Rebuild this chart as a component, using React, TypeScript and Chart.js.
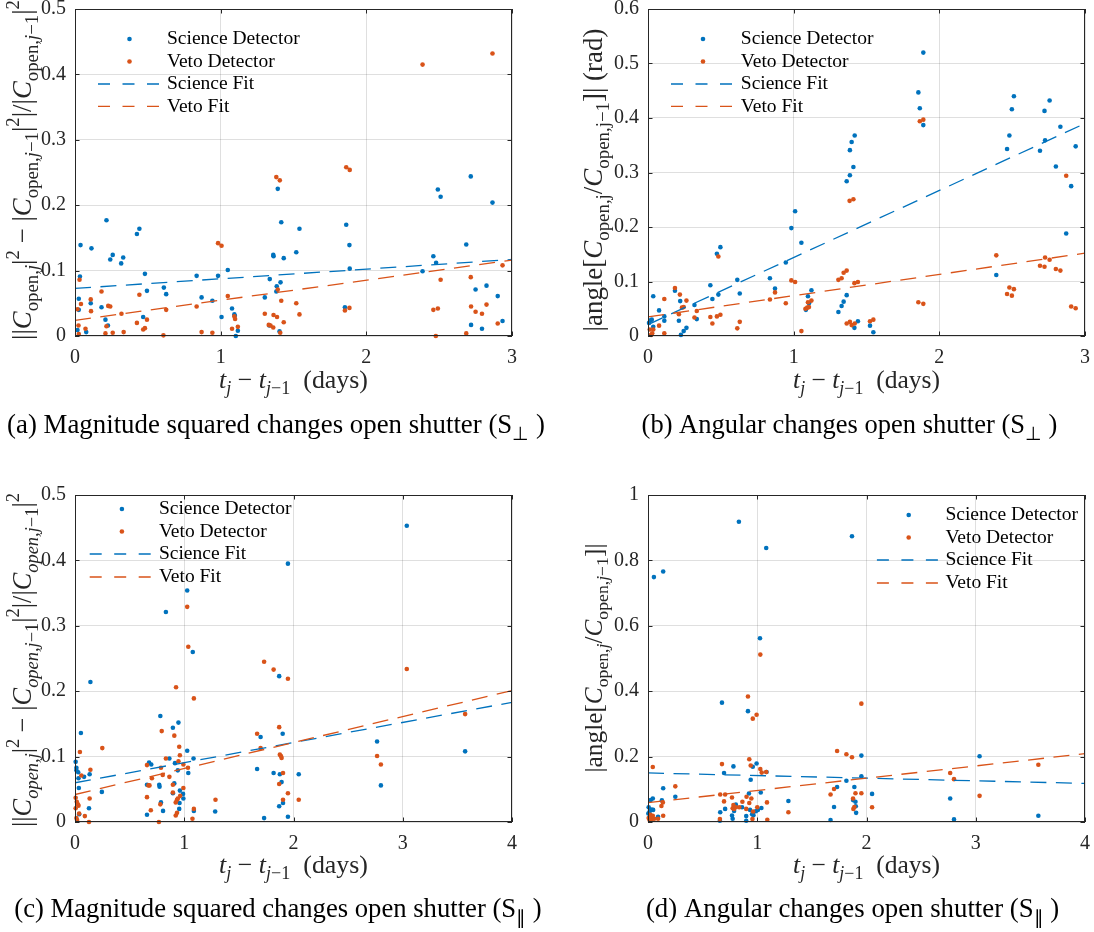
import React, { useEffect, useRef } from 'react';
import { Chart, registerables } from 'chart.js';
Chart.register(...registerables);

const SCI = '#0072BD';
const VETO = '#D95319';
const FONT = "'Liberation Serif', 'Times New Roman', serif";

// ---------------- DATA ----------------
const labels = ['Science Detector', 'Veto Detector', 'Science Fit', 'Veto Fit'];

const xTicks3 = [0, 1, 2, 3];
const xTicks4 = [0, 1, 2, 3, 4];
const yTicksA = [0, 0.1, 0.2, 0.3, 0.4, 0.5];
const yTicksB = [0, 0.1, 0.2, 0.3, 0.4, 0.5, 0.6];
const yTicksC = [0, 0.1, 0.2, 0.3, 0.4, 0.5];
const yTicksD = [0, 0.2, 0.4, 0.6, 0.8, 1];

const aScience = [[0.017,0.009],[0.026,0.040],[0.026,0.057],[0.034,0.091],[0.038,0.139],[0.077,0.006],[0.108,0.050],[0.113,0.134],[0.182,0.044],[0.209,0.025],[0.216,0.177],[0.226,0.016],[0.242,0.117],[0.259,0.124],[0.317,0.111],[0.331,0.120],[0.425,0.156],[0.442,0.164],[0.468,0.029],[0.480,0.095],[0.494,0.069],[0.610,0.074],[0.626,0.064],[0.835,0.092],[0.869,0.059],[0.943,0.054],[0.982,0.092],[1.006,0.029],[1.049,0.101],[1.078,0.042],[1.094,0.033],[1.097,0.031],[1.104,0.000],[1.118,0.008],[1.303,0.059],[1.337,0.087],[1.334,0.016],[1.361,0.124],[1.363,0.122],[1.382,0.068],[1.385,0.076],[1.392,0.225],[1.404,0.007],[1.411,0.082],[1.416,0.174],[1.433,0.119],[1.519,0.128],[1.541,0.164],[1.853,0.044],[1.862,0.170],[1.884,0.139],[1.886,0.103],[2.386,0.099],[2.460,0.122],[2.479,0.112],[2.491,0.224],[2.510,0.213],[2.686,0.140],[2.717,0.244],[2.719,0.017],[2.750,0.071],[2.794,0.011],[2.825,0.077],[2.866,0.204],[2.902,0.061],[2.935,0.023]];
const aVeto = [[0.017,0.041],[0.024,0.016],[0.026,0.003],[0.031,0.086],[0.041,0.049],[0.072,0.011],[0.108,0.056],[0.110,0.038],[0.182,0.068],[0.209,0.004],[0.216,0.015],[0.228,0.046],[0.242,0.045],[0.259,0.005],[0.319,0.034],[0.334,0.006],[0.425,0.020],[0.442,0.063],[0.468,0.010],[0.480,0.012],[0.494,0.025],[0.607,0.001],[0.626,0.040],[0.835,0.045],[0.869,0.006],[0.943,0.005],[0.982,0.142],[1.006,0.138],[1.049,0.061],[1.078,0.011],[1.094,0.030],[1.099,0.026],[1.118,0.014],[1.303,0.034],[1.330,0.017],[1.342,0.016],[1.361,0.013],[1.363,0.032],[1.382,0.243],[1.387,0.029],[1.392,0.071],[1.406,0.238],[1.409,0.005],[1.416,0.054],[1.433,0.021],[1.519,0.050],[1.541,0.033],[1.853,0.039],[1.862,0.258],[1.884,0.043],[1.886,0.254],[2.386,0.415],[2.460,0.040],[2.477,0.000],[2.491,0.042],[2.510,0.086],[2.686,0.004],[2.717,0.090],[2.719,0.045],[2.750,0.037],[2.794,0.034],[2.825,0.048],[2.866,0.432],[2.902,0.019],[2.935,0.108]];
const aScienceFit = [[0, 0.0727], [3, 0.117]];
const aVetoFit = [[0, 0.024], [3, 0.116]];

const bScience = [[0.007,0.024],[0.017,0.029],[0.026,0.030],[0.036,0.073],[0.036,0.017],[0.076,0.047],[0.112,0.028],[0.112,0.036],[0.185,0.083],[0.212,0.028],[0.221,0.064],[0.226,0.002],[0.245,0.009],[0.264,0.015],[0.319,0.057],[0.335,0.031],[0.428,0.093],[0.442,0.068],[0.473,0.151],[0.483,0.076],[0.497,0.163],[0.613,0.103],[0.630,0.078],[0.837,0.106],[0.872,0.087],[0.946,0.135],[0.984,0.198],[1.010,0.229],[1.053,0.171],[1.084,0.048],[1.098,0.073],[1.105,0.060],[1.122,0.084],[1.307,0.044],[1.329,0.055],[1.343,0.063],[1.364,0.075],[1.364,0.284],[1.386,0.295],[1.386,0.341],[1.398,0.356],[1.410,0.310],[1.417,0.015],[1.419,0.368],[1.441,0.027],[1.524,0.019],[1.547,0.007],[1.856,0.447],[1.866,0.418],[1.890,0.520],[1.890,0.387],[2.391,0.112],[2.465,0.343],[2.481,0.368],[2.498,0.416],[2.512,0.440],[2.691,0.340],[2.722,0.413],[2.726,0.359],[2.757,0.432],[2.800,0.311],[2.831,0.384],[2.871,0.188],[2.905,0.275],[2.936,0.348]];
const bVeto = [[0.012,0.012],[0.021,0.002],[0.029,0.005],[0.036,0.012],[0.076,0.019],[0.112,0.068],[0.112,0.005],[0.185,0.088],[0.212,0.040],[0.219,0.076],[0.233,0.052],[0.245,0.053],[0.264,0.065],[0.319,0.034],[0.335,0.046],[0.428,0.035],[0.442,0.023],[0.473,0.036],[0.483,0.146],[0.497,0.039],[0.613,0.014],[0.630,0.026],[0.837,0.067],[0.872,0.080],[0.946,0.060],[0.984,0.102],[1.010,0.099],[1.053,0.009],[1.081,0.050],[1.093,0.052],[1.098,0.062],[1.105,0.053],[1.122,0.065],[1.307,0.103],[1.329,0.106],[1.343,0.116],[1.364,0.120],[1.364,0.023],[1.384,0.248],[1.386,0.026],[1.398,0.020],[1.410,0.251],[1.419,0.023],[1.417,0.097],[1.441,0.099],[1.524,0.027],[1.547,0.030],[1.856,0.062],[1.866,0.394],[1.890,0.397],[1.890,0.059],[2.391,0.148],[2.465,0.077],[2.481,0.089],[2.498,0.074],[2.512,0.086],[2.691,0.129],[2.722,0.127],[2.726,0.144],[2.757,0.140],[2.800,0.123],[2.831,0.120],[2.871,0.294],[2.905,0.054],[2.936,0.051]];
const bScienceFit = [[0, 0.021], [3, 0.390]];
const bVetoFit = [[0, 0.035], [3, 0.152]];

const cScience = [[0.006,0.092],[0.013,0.083],[0.013,0.079],[0.029,0.076],[0.032,0.067],[0.035,0.052],[0.038,0.012],[0.054,0.136],[0.083,0.069],[0.128,0.021],[0.134,0.073],[0.141,0.214],[0.246,0.046],[0.659,0.011],[0.659,0.057],[0.678,0.091],[0.698,0.088],[0.771,0.057],[0.774,0.054],[0.781,0.162],[0.787,0.030],[0.806,0.017],[0.832,0.321],[0.864,0.097],[0.896,0.044],[0.896,0.144],[0.909,0.059],[0.915,0.090],[0.941,0.079],[0.947,0.152],[0.954,0.020],[0.957,0.029],[0.960,0.048],[0.989,0.043],[0.992,0.036],[1.027,0.354],[1.027,0.109],[1.037,0.075],[1.078,0.260],[1.085,0.097],[1.088,0.017],[1.283,0.016],[1.667,0.081],[1.699,0.130],[1.731,0.006],[1.818,0.075],[1.869,0.223],[1.869,0.024],[1.875,0.073],[1.891,0.061],[1.901,0.135],[1.904,0.029],[1.949,0.395],[1.949,0.008],[2.048,0.073],[2.765,0.123],[2.800,0.056],[3.037,0.453],[3.571,0.108]];
const cVeto = [[0.006,0.037],[0.006,0.021],[0.013,0.006],[0.016,0.031],[0.019,0.003],[0.026,0.027],[0.032,0.025],[0.038,0.013],[0.045,0.107],[0.058,0.071],[0.090,0.009],[0.128,0.000],[0.134,0.036],[0.141,0.080],[0.250,0.113],[0.659,0.087],[0.659,0.038],[0.672,0.056],[0.682,0.056],[0.694,0.018],[0.704,0.067],[0.768,0.000],[0.781,0.027],[0.787,0.083],[0.794,0.139],[0.803,0.072],[0.832,0.097],[0.864,0.069],[0.896,0.057],[0.896,0.045],[0.909,0.132],[0.922,0.010],[0.922,0.030],[0.925,0.206],[0.934,0.014],[0.934,0.034],[0.941,0.036],[0.947,0.093],[0.954,0.115],[0.960,0.102],[0.963,0.040],[0.992,0.088],[0.992,0.052],[1.027,0.329],[1.034,0.083],[1.037,0.268],[1.075,0.005],[1.088,0.189],[1.088,0.020],[1.286,0.034],[1.667,0.135],[1.699,0.113],[1.818,0.233],[1.731,0.245],[1.869,0.145],[1.875,0.103],[1.885,0.101],[1.891,0.098],[1.869,0.058],[1.904,0.075],[1.904,0.034],[1.949,0.219],[1.949,0.044],[2.048,0.034],[2.765,0.101],[2.800,0.088],[3.037,0.234],[3.571,0.165]];
const cScienceFit = [[0, 0.060], [4, 0.183]];
const cVetoFit = [[0, 0.042], [4, 0.201]];

const dScience = [[0.003,0.026],[0.006,0.045],[0.016,0.033],[0.016,0.016],[0.025,0.067],[0.032,0.038],[0.038,0.011],[0.044,0.072],[0.047,0.037],[0.054,0.749],[0.092,0.016],[0.127,0.066],[0.139,0.103],[0.139,0.766],[0.250,0.077],[0.658,0.004],[0.661,0.030],[0.677,0.365],[0.696,0.150],[0.706,0.040],[0.769,0.020],[0.775,0.010],[0.782,0.170],[0.788,0.034],[0.804,0.053],[0.832,0.918],[0.861,0.045],[0.899,0.018],[0.899,0.004],[0.915,0.339],[0.924,0.087],[0.934,0.037],[0.940,0.129],[0.953,0.024],[0.959,0.169],[0.965,0.021],[0.987,0.033],[0.994,0.179],[1.006,0.037],[1.025,0.562],[1.032,0.090],[1.038,0.043],[1.082,0.838],[1.085,0.153],[1.285,0.064],[1.671,0.006],[1.703,0.046],[1.731,0.107],[1.816,0.126],[1.867,0.874],[1.877,0.067],[1.889,0.107],[1.899,0.062],[1.902,0.048],[1.905,0.028],[1.953,0.203],[1.953,0.140],[2.051,0.086],[2.766,0.072],[2.801,0.008],[3.035,0.201],[3.573,0.019]];
const dVeto = [[0.006,0.012],[0.013,0.007],[0.022,0.022],[0.028,0.014],[0.035,0.009],[0.044,0.168],[0.044,0.019],[0.057,0.010],[0.092,0.010],[0.123,0.049],[0.136,0.060],[0.139,0.019],[0.250,0.109],[0.658,0.009],[0.661,0.084],[0.677,0.177],[0.696,0.063],[0.706,0.084],[0.769,0.075],[0.775,0.042],[0.782,0.052],[0.788,0.040],[0.804,0.045],[0.835,0.045],[0.864,0.062],[0.899,0.040],[0.902,0.077],[0.915,0.384],[0.927,0.192],[0.927,0.058],[0.940,0.173],[0.946,0.072],[0.956,0.009],[0.959,0.316],[0.962,0.032],[0.994,0.328],[1.000,0.045],[1.028,0.512],[1.028,0.162],[1.041,0.151],[1.082,0.153],[1.089,0.060],[1.092,0.007],[1.285,0.030],[1.671,0.084],[1.703,0.101],[1.731,0.217],[1.816,0.207],[1.867,0.198],[1.877,0.072],[1.880,0.040],[1.889,0.046],[1.899,0.088],[1.953,0.362],[1.953,0.088],[2.051,0.045],[2.766,0.150],[2.801,0.131],[3.035,0.080],[3.573,0.175]];
const dScienceFit = [[0, 0.150], [4, 0.118]];
const dVetoFit = [[0, 0.059], [4, 0.209]];

// ---------------- TEXT ----------------
type Seg = [string, string]; // flags: i italic, b subscript, p superscript
const yTitleA: Seg[] = [['||',''],['C','i'],['open,','b'],['j','bi'],['|',''],['2','p'],[' − |',''],['C','i'],['open,','b'],['j','bi'],['−1','b'],['|',''],['2','p'],['|/|',''],['C','i'],['open,','b'],['j','bi'],['−1','b'],['|',''],['2','p']];
const yTitleB: Seg[] = [['|angle[',''],['C','i'],['open,j','b'],['/',''],['C','i'],['open,j−1','b'],[']| (rad)','']];
const yTitleC: Seg[] = [['||',''],['C','i'],['open,j','bi'],['|',''],['2','p'],[' − |',''],['C','i'],['open,j','bi'],['−1','b'],['|',''],['2','p'],['|/|',''],['C','i'],['open,j','bi'],['−1','b'],['|',''],['2','p']];
const yTitleD: Seg[] = [['|angle[',''],['C','i'],['open,','b'],['j','bi'],['/',''],['C','i'],['open,','b'],['j','bi'],['−1','b'],[']|','']];
const xTitle: Seg[] = [['t','i'],['j','bi'],[' − ',''],['t','i'],['j','bi'],['−1','b'],['  (days)','']];
const capA: Seg[] = [['(a) Magnitude squared changes open shutter (S',''],['⊥','b'],[' )','']];
const capB: Seg[] = [['(b) Angular changes open shutter (S',''],['⊥','b'],[' )','']];
const capC: Seg[] = [['(c) Magnitude squared changes open shutter (S',''],['∥','b'],[' )','']];
const capD: Seg[] = [['(d) Angular changes open shutter (S',''],['∥','b'],[' )','']];

// ---------------- RICH TEXT HELPERS ----------------
function setFont(ctx: CanvasRenderingContext2D, f: string, size: number) {
  const s = f.includes('b') || f.includes('p') ? size * 0.7 : size;
  ctx.font = `${f.includes('i') ? 'italic ' : ''}${s}px ${FONT}`;
}
function measureRich(ctx: CanvasRenderingContext2D, segs: Seg[], size: number) {
  let w = 0;
  for (const [t, f] of segs) { setFont(ctx, f, size); w += ctx.measureText(t).width; }
  return w;
}
function drawRich(ctx: CanvasRenderingContext2D, segs: Seg[], size: number, x: number, y: number) {
  let cx = x;
  for (const [t, f] of segs) {
    setFont(ctx, f, size);
    const dy = f.includes('b') ? 0.27 * size : f.includes('p') ? -0.42 * size : 0;
    ctx.fillText(t, cx, y + dy);
    cx += ctx.measureText(t).width;
  }
}
function fitSize(ctx: CanvasRenderingContext2D, segs: Seg[], len: number) {
  return (20 * len) / measureRich(ctx, segs, 20);
}

// ---------------- PANELS ----------------
const panels = [
  { key: 'a', left: 0, top: 0, w: 547, h: 460, L: 75, R: 512, T: 9, B: 336, xMax: 3, yMax: 0.5,
    xTicks: xTicks3, yTicks: yTicksA, sci: aScience, veto: aVeto, sciFit: aScienceFit, vetoFit: aVetoFit,
    legend: { mx: 129.5, tx: 167, lx0: 98, lx1: 162, rows: [39, 61.5, 84, 106.4] },
    yTitle: { segs: yTitleA, x: 30.5, cy: 170, len: 340 }, xTitle: { base: 387.5, len: 149 },
    cap: { segs: capA, cx: 276, base: 433, len: 537 } },
  { key: 'b', left: 547, top: 0, w: 547, h: 460, L: 101, R: 538, T: 9, B: 336, xMax: 3, yMax: 0.6,
    xTicks: xTicks3, yTicks: yTicksB, sci: bScience, veto: bVeto, sciFit: bScienceFit, vetoFit: bVetoFit,
    legend: { mx: 156, tx: 193.8, lx0: 124, lx1: 187.6, rows: [39, 61.5, 84, 106.4] },
    yTitle: { segs: yTitleB, x: 54.5, cy: 180, len: 303 }, xTitle: { base: 387.5, len: 147 },
    cap: { segs: capB, cx: 302.5, base: 433, len: 415 } },
  { key: 'c', left: 0, top: 486, w: 547, h: 446, L: 75, R: 512, T: 9, B: 336, xMax: 4, yMax: 0.5,
    xTicks: xTicks4, yTicks: yTicksC, sci: cScience, veto: cVeto, sciFit: cScienceFit, vetoFit: cVetoFit,
    legend: { mx: 121.9, tx: 158.9, lx0: 89.7, lx1: 154, rows: [23, 45.5, 68, 91] },
    yTitle: { segs: yTitleC, x: 30.5, cy: 174, len: 334 }, xTitle: { base: 386.5, len: 149 },
    cap: { segs: capC, cx: 278, base: 431, len: 527 } },
  { key: 'd', left: 547, top: 486, w: 547, h: 446, L: 101, R: 538, T: 9, B: 336, xMax: 4, yMax: 1,
    xTicks: xTicks4, yTicks: yTicksD, sci: dScience, veto: dVeto, sciFit: dScienceFit, vetoFit: dVetoFit,
    legend: { mx: 361.7, tx: 398.4, lx0: 329.9, lx1: 393.9, rows: [29, 51.5, 74, 97] },
    yTitle: { segs: yTitleD, x: 54.5, cy: 172, len: 229 }, xTitle: { base: 386.5, len: 147 },
    cap: { segs: capD, cx: 305.6, base: 431, len: 413 } },
];

type PanelCfg = typeof panels[number];

function makeDecor(cfg: PanelCfg) {
  return {
    id: 'decor' + cfg.key,
    afterDatasetsDraw(chart: any) {
      const { ctx, chartArea: a, scales } = chart;
      ctx.save();
      ctx.strokeStyle = '#262626';
      ctx.lineWidth = 1;
      ctx.strokeRect(a.left + 0.5, a.top + 0.5, a.right - a.left - 1, a.bottom - a.top - 1);
      const tl = 4.5;
      ctx.beginPath();
      for (const v of cfg.xTicks) {
        const px = Math.round(scales.x.getPixelForValue(v)) + 0.5;
        ctx.moveTo(px, a.bottom); ctx.lineTo(px, a.bottom - tl);
        ctx.moveTo(px, a.top); ctx.lineTo(px, a.top + tl);
      }
      for (const v of cfg.yTicks) {
        const py = Math.round(scales.y.getPixelForValue(v)) + 0.5;
        ctx.moveTo(a.left, py); ctx.lineTo(a.left + tl, py);
        ctx.moveTo(a.right, py); ctx.lineTo(a.right - tl, py);
      }
      ctx.stroke();
      ctx.restore();
    },
    afterDraw(chart: any) {
      const { ctx, chartArea: a } = chart;
      const ds = chart.data.datasets;
      const lg = cfg.legend;
      ctx.save();
      // legend
      ctx.textBaseline = 'middle';
      ctx.textAlign = 'left';
      ctx.font = `19.5px ${FONT}`;
      for (let i = 0; i < 4; i++) {
        const y = lg.rows[i];
        if (i < 2) {
          ctx.fillStyle = ds[i].backgroundColor;
          ctx.beginPath();
          ctx.arc(lg.mx, y, 2.3, 0, Math.PI * 2);
          ctx.fill();
        } else {
          ctx.strokeStyle = ds[i].borderColor;
          ctx.lineWidth = 1.3;
          ctx.setLineDash([12, 12.5]);
          ctx.beginPath();
          ctx.moveTo(lg.lx0, y);
          ctx.lineTo(lg.lx1, y);
          ctx.stroke();
          ctx.setLineDash([]);
        }
        ctx.fillStyle = '#000';
        ctx.fillText(ds[i].label, lg.tx, y);
      }
      ctx.textBaseline = 'alphabetic';
      // y title
      ctx.fillStyle = '#262626';
      const yt = cfg.yTitle;
      const ys = fitSize(ctx, yt.segs, yt.len);
      const yw = measureRich(ctx, yt.segs, ys);
      ctx.save();
      ctx.translate(yt.x, yt.cy);
      ctx.rotate(-Math.PI / 2);
      drawRich(ctx, yt.segs, ys, -yw / 2, 0);
      ctx.restore();
      // x title
      const xs = fitSize(ctx, xTitle, cfg.xTitle.len);
      const xw = measureRich(ctx, xTitle, xs);
      drawRich(ctx, xTitle, xs, (a.left + a.right) / 2 - xw / 2, cfg.xTitle.base);
      // caption
      ctx.fillStyle = '#000';
      const cs = fitSize(ctx, cfg.cap.segs, cfg.cap.len);
      const cw = measureRich(ctx, cfg.cap.segs, cs);
      drawRich(ctx, cfg.cap.segs, cs, cfg.cap.cx - cw / 2, cfg.cap.base);
      ctx.restore();
    },
  };
}

const toPts = (arr: number[][]) => arr.map(([x, y]) => ({ x, y }));

function Panel({ cfg }: { cfg: PanelCfg }) {
  const ref = useRef<HTMLCanvasElement>(null);
  useEffect(() => {
    if (!ref.current) return;
    const tickFont = { family: FONT, size: 20 };
    const fmt = (v: any) => String(Number(v));
    const chart = new Chart(ref.current, {
      type: 'scatter',
      data: {
        datasets: [
          { label: labels[0], data: toPts(cfg.sci), backgroundColor: SCI, borderColor: SCI, pointRadius: 2.3, borderWidth: 0, pointBorderWidth: 0, order: 4, clip: false },
          { label: labels[1], data: toPts(cfg.veto), backgroundColor: VETO, borderColor: VETO, pointRadius: 2.3, borderWidth: 0, pointBorderWidth: 0, order: 3, clip: false },
          { label: labels[2], data: toPts(cfg.sciFit), showLine: true, borderColor: SCI, backgroundColor: SCI, pointRadius: 0, borderWidth: 1.3, borderDash: [16, 9.5], order: 2 },
          { label: labels[3], data: toPts(cfg.vetoFit), showLine: true, borderColor: VETO, backgroundColor: VETO, pointRadius: 0, borderWidth: 1.3, borderDash: [16, 9.5], order: 1 },
        ],
      } as any,
      options: {
        responsive: false,
        animation: false,
        devicePixelRatio: 1,
        events: [],
        layout: { padding: { left: 0, top: cfg.T, right: cfg.w - cfg.R, bottom: 0 } },
        plugins: { legend: { display: false }, tooltip: { enabled: false } },
        scales: {
          x: {
            type: 'linear', min: 0, max: cfg.xMax,
            afterBuildTicks: (s: any) => { s.ticks = cfg.xTicks.map((v) => ({ value: v })); },
            afterFit: (s: any) => { s.height = cfg.h - cfg.B; s.paddingLeft = 0; s.paddingRight = 0; s.paddingTop = 0; s.paddingBottom = 0; },
            grid: { color: 'rgba(38,38,38,0.15)', drawTicks: false, lineWidth: 1 },
            border: { display: false },
            ticks: { font: tickFont, color: '#262626', padding: 10, maxRotation: 0, autoSkip: false, callback: fmt },
          },
          y: {
            type: 'linear', min: 0, max: cfg.yMax,
            afterBuildTicks: (s: any) => { s.ticks = cfg.yTicks.map((v) => ({ value: v })); },
            afterFit: (s: any) => { s.width = cfg.L; s.paddingLeft = 0; s.paddingRight = 0; s.paddingTop = 0; s.paddingBottom = 0; },
            grid: { color: 'rgba(38,38,38,0.15)', drawTicks: false, lineWidth: 1 },
            border: { display: false },
            ticks: { font: tickFont, color: '#262626', padding: 9, autoSkip: false, callback: fmt },
          },
        },
      } as any,
      plugins: [makeDecor(cfg)],
    });
    return () => chart.destroy();
  }, [cfg]);
  return (
    <canvas
      ref={ref}
      width={cfg.w}
      height={cfg.h}
      style={{ position: 'absolute', left: cfg.left, top: cfg.top, width: cfg.w, height: cfg.h }}
    />
  );
}

export default function App() {
  return (
    <div style={{ position: 'fixed', left: 0, top: 0, width: 1094, height: 932, background: '#fff', overflow: 'hidden' }}>
      {panels.map((p) => (
        <Panel key={p.key} cfg={p} />
      ))}
    </div>
  );
}
